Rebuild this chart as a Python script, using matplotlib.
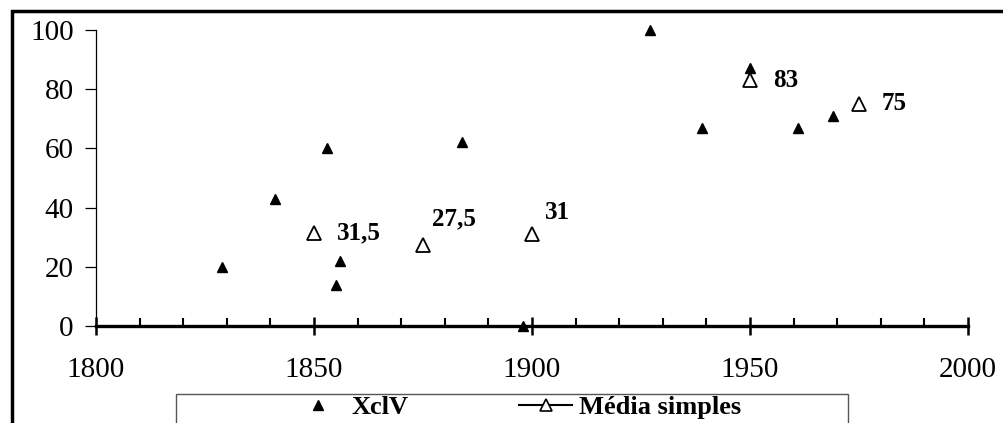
import matplotlib.pyplot as plt
from matplotlib.lines import Line2D
from matplotlib.patches import Rectangle
from matplotlib.ticker import MultipleLocator

# Dados
anos_xclv = [1829, 1841, 1853, 1855, 1856, 1884, 1898, 1927, 1939, 1950, 1961, 1969]
valores_xclv = [20, 43, 60, 14, 22, 62, 0, 100, 67, 87, 67, 71]

anos_media = [1850, 1875, 1900, 1950, 1975]
valores_media = [31.5, 27.5, 31, 83, 75]
rotulos_media = ['31,5', '27,5', '31', '83', '75']
# deslocamento dos rótulos (px)
desloc_rotulos = [(23, 0), (9, 26), (13, 22), (23, 0), (23, 0)]

plt.rcParams['font.family'] = ['Liberation Serif', 'DejaVu Serif']

W, H = 1004, 423
fig = plt.figure(figsize=(W / 100, H / 100), dpi=100)
ax = fig.add_axes([96 / W, 1 - 326 / H, (968 - 96) / W, (326 - 30) / H])

ax.plot(anos_xclv, valores_xclv, linestyle='none', marker='^', markersize=7,
        color='black', clip_on=False, zorder=3)
ax.plot(anos_media, valores_media, linestyle='none', marker='^', markersize=9.5,
        markerfacecolor='white', markeredgecolor='black', markeredgewidth=1.3,
        clip_on=False, zorder=3)

for x, y, txt, (dx, dy) in zip(anos_media, valores_media, rotulos_media, desloc_rotulos):
    ax.annotate(txt, (x, y), xytext=(dx * 0.72, dy * 0.72), textcoords='offset points',
                ha='left', va='center', fontsize=18, fontweight='bold')

ax.set_xlim(1800, 2000)
ax.set_ylim(0, 100)
ax.xaxis.set_major_locator(MultipleLocator(50))
ax.xaxis.set_minor_locator(MultipleLocator(10))
ax.yaxis.set_major_locator(MultipleLocator(20))

ax.spines['top'].set_visible(False)
ax.spines['right'].set_visible(False)
ax.spines['left'].set_linewidth(0.9)
ax.spines['bottom'].set_linewidth(2.4)

ax.tick_params(axis='x', which='major', direction='inout', length=13, width=1.8,
               labelsize=21, pad=16)
ax.tick_params(axis='x', which='minor', direction='in', length=6, width=1.5)
ax.tick_params(axis='y', which='major', direction='out', length=8, width=0.9,
               labelsize=21, pad=8)

# Legenda
handles = [
    Line2D([], [], linestyle='none', marker='^', markersize=7, color='black'),
    Line2D([], [], color='black', linewidth=1.5, marker='^', markersize=8,
           markerfacecolor='white', markeredgecolor='black', markeredgewidth=1.2),
]
fig.legend(handles, ['XclV', 'Média simples'], loc='upper left',
           bbox_to_anchor=(292 / W, 1 - 396 / H), ncol=2, frameon=False,
           prop={'weight': 'bold', 'size': 19}, handlelength=2.0,
           handletextpad=0.25, columnspacing=4.2, borderaxespad=0, borderpad=0)
fig.patches.append(Rectangle((176 / W, -0.2), (848 - 176) / W, 0.2 + 1 - 394 / H,
                             transform=fig.transFigure, fill=False,
                             edgecolor='#555555', linewidth=1))

# Moldura externa
fig.patches.append(Rectangle((12 / W, -0.2), 1.2, 0.2 + 1 - 11 / H,
                             transform=fig.transFigure, fill=False,
                             edgecolor='black', linewidth=2.5))

fig.savefig('out.png', dpi=100)
